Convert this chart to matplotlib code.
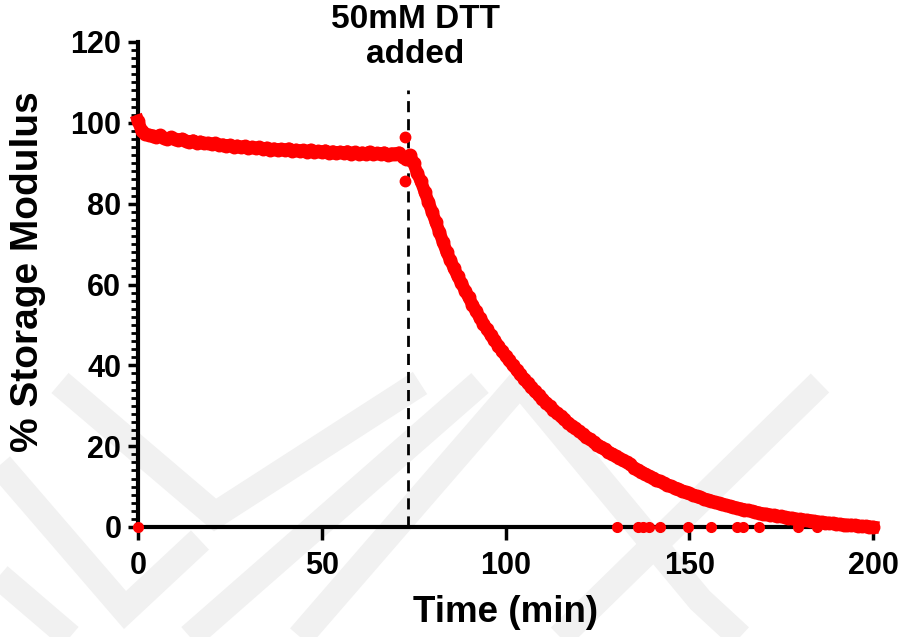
import matplotlib
matplotlib.use("Agg")
import matplotlib.pyplot as plt
from matplotlib.lines import Line2D
from matplotlib.ticker import MultipleLocator

plt.rcParams['font.family'] = ['Liberation Sans', 'DejaVu Sans']
plt.rcParams['font.weight'] = 'bold'

# storage modulus (%) read every minute, t = 0 .. 200 min
time_min = list(range(0, 201))
modulus = [
    100.5, 98.0, 97.2, 97.0, 96.8, 96.6, 96.9, 96.3, 96.1, 96.4,
    95.9, 95.7, 96.0, 95.5, 95.2, 95.6, 95.1, 95.3, 94.9, 95.0,
    94.7, 94.9, 94.5, 94.6, 94.3, 94.5, 94.1, 94.3, 93.9, 94.2,
    93.8, 94.0, 93.7, 93.9, 93.5, 93.8, 93.4, 93.6, 93.3, 93.5,
    93.2, 93.6, 93.1, 93.3, 93.0, 93.2, 92.9, 93.3, 92.8, 93.0,
    92.7, 93.1, 92.6, 92.9, 92.5, 92.8, 92.5, 92.9, 92.4, 92.7,
    92.3, 92.6, 92.4, 92.8, 92.2, 92.5, 92.3, 92.6, 92.1, 92.4,
    92.3, 92.6, 91.5, 91.0, 92.0, 90.0, 87.5, 85.5, 83.0, 80.5,
    78.0, 75.5, 73.0, 70.5, 68.0, 66.0, 64.0, 62.0, 60.3, 58.5,
    56.8, 55.0, 53.4, 51.8, 50.3, 48.9, 47.5, 46.2, 44.9, 43.6,
    42.4, 41.2, 40.0, 38.9, 37.8, 36.7, 35.6, 34.6, 33.6, 32.6,
    31.7, 30.8, 29.9, 29.0, 28.2, 27.4, 26.6, 25.8, 25.1, 24.4,
    23.7, 23.0, 22.3, 21.7, 21.0, 20.4, 19.8, 19.2, 18.6, 18.1,
    17.5, 17.0, 16.5, 16.0, 15.5, 14.6, 14.1, 13.6, 13.1, 12.6,
    12.2, 11.7, 11.3, 10.9, 10.5, 10.1, 9.7, 9.3, 9.0, 8.6,
    8.3, 7.9, 7.6, 7.3, 7.0, 6.7, 6.4, 6.1, 5.9, 5.6,
    5.4, 5.1, 4.9, 4.7, 4.5, 4.3, 4.1, 3.9, 3.7, 3.5,
    3.3, 3.2, 3.0, 2.9, 2.7, 2.6, 2.4, 2.3, 2.2, 2.0,
    1.9, 1.8, 1.7, 1.6, 1.4, 1.3, 1.2, 1.1, 1.0, 0.9,
    0.8, 0.7, 0.6, 0.5, 0.5, 0.4, 0.3, 0.2, 0.2, 0.1,
    0.0,
]

# stray readings
spike_t = [72.7, 72.7]
spike_val = [96.5, 85.5]
zero_t = [0, 130.3, 136, 137.5, 139, 142, 149.7, 156, 163, 164.5, 169, 179.6, 184.7]
zero_val = [0] * len(zero_t)

dtt_time = 73.5

fig = plt.figure(figsize=(9.06, 6.37), dpi=100)

# faint watermark chevrons (figure pixel coords, y from top)
W, H = 906, 637
bands = [
    [(60, 383), (215, 515), (420, 383)],
    [(0, 465), (125, 610), (200, 540)],
    [(190, 637), (480, 383)],
    [(300, 637), (520, 383)],
    [(560, 637), (820, 383)],
    [(520, 383), (700, 600), (740, 637)],
    [(-20, 560), (70, 637)],
]
for b in bands:
    xs = [p[0] / W for p in b]
    ys = [1 - p[1] / H for p in b]
    fig.add_artist(Line2D(xs, ys, transform=fig.transFigure, color='#f1f1f1',
                          lw=19, solid_capstyle='butt', solid_joinstyle='miter', zorder=0))

ax = fig.add_axes([138 / W, 1 - 527 / H, 735 / W, 485 / H])
ax.patch.set_alpha(0)

ax.plot(time_min, modulus, color='red', lw=9, marker='o', ms=9, zorder=3, clip_on=False)
ax.plot(spike_t, spike_val, 'o', color='red', ms=7.5, zorder=3)
ax.plot(zero_t, zero_val, 'o', color='red', ms=7, zorder=4, clip_on=False)

ax.plot([dtt_time, dtt_time], [0, 108], color='black', lw=2, ls=(0, (4, 2.5)), zorder=2, clip_on=False)
ax.text(dtt_time + 2, 129.5, '50mM DTT\nadded', ha='center', va='top', fontsize=24,
        fontweight='bold', linespacing=1.2)

ax.set_xlim(0, 200)
ax.set_ylim(0, 120)
ax.set_xticks([0, 50, 100, 150, 200])
ax.set_yticks(range(0, 121, 20))
ax.yaxis.set_minor_locator(MultipleLocator(2))

for s in ['top', 'right']:
    ax.spines[s].set_visible(False)
for s in ['left', 'bottom']:
    ax.spines[s].set_linewidth(3)

ax.tick_params(axis='x', which='major', length=9, width=2.5, pad=8, labelsize=22)
ax.tick_params(axis='y', which='major', length=7, width=2.5, pad=5, labelsize=22)
ax.tick_params(axis='y', which='minor', length=5, width=2)
for lab in ax.get_xticklabels() + ax.get_yticklabels():
    lab.set_fontweight('bold')

ax.set_xlabel('Time (min)', fontsize=26.5, fontweight='bold', labelpad=10)
ax.set_ylabel('% Storage Modulus', fontsize=28, fontweight='bold')
ax.yaxis.set_label_coords(-0.125, 0.526)

fig.savefig('out.png', dpi=100)
